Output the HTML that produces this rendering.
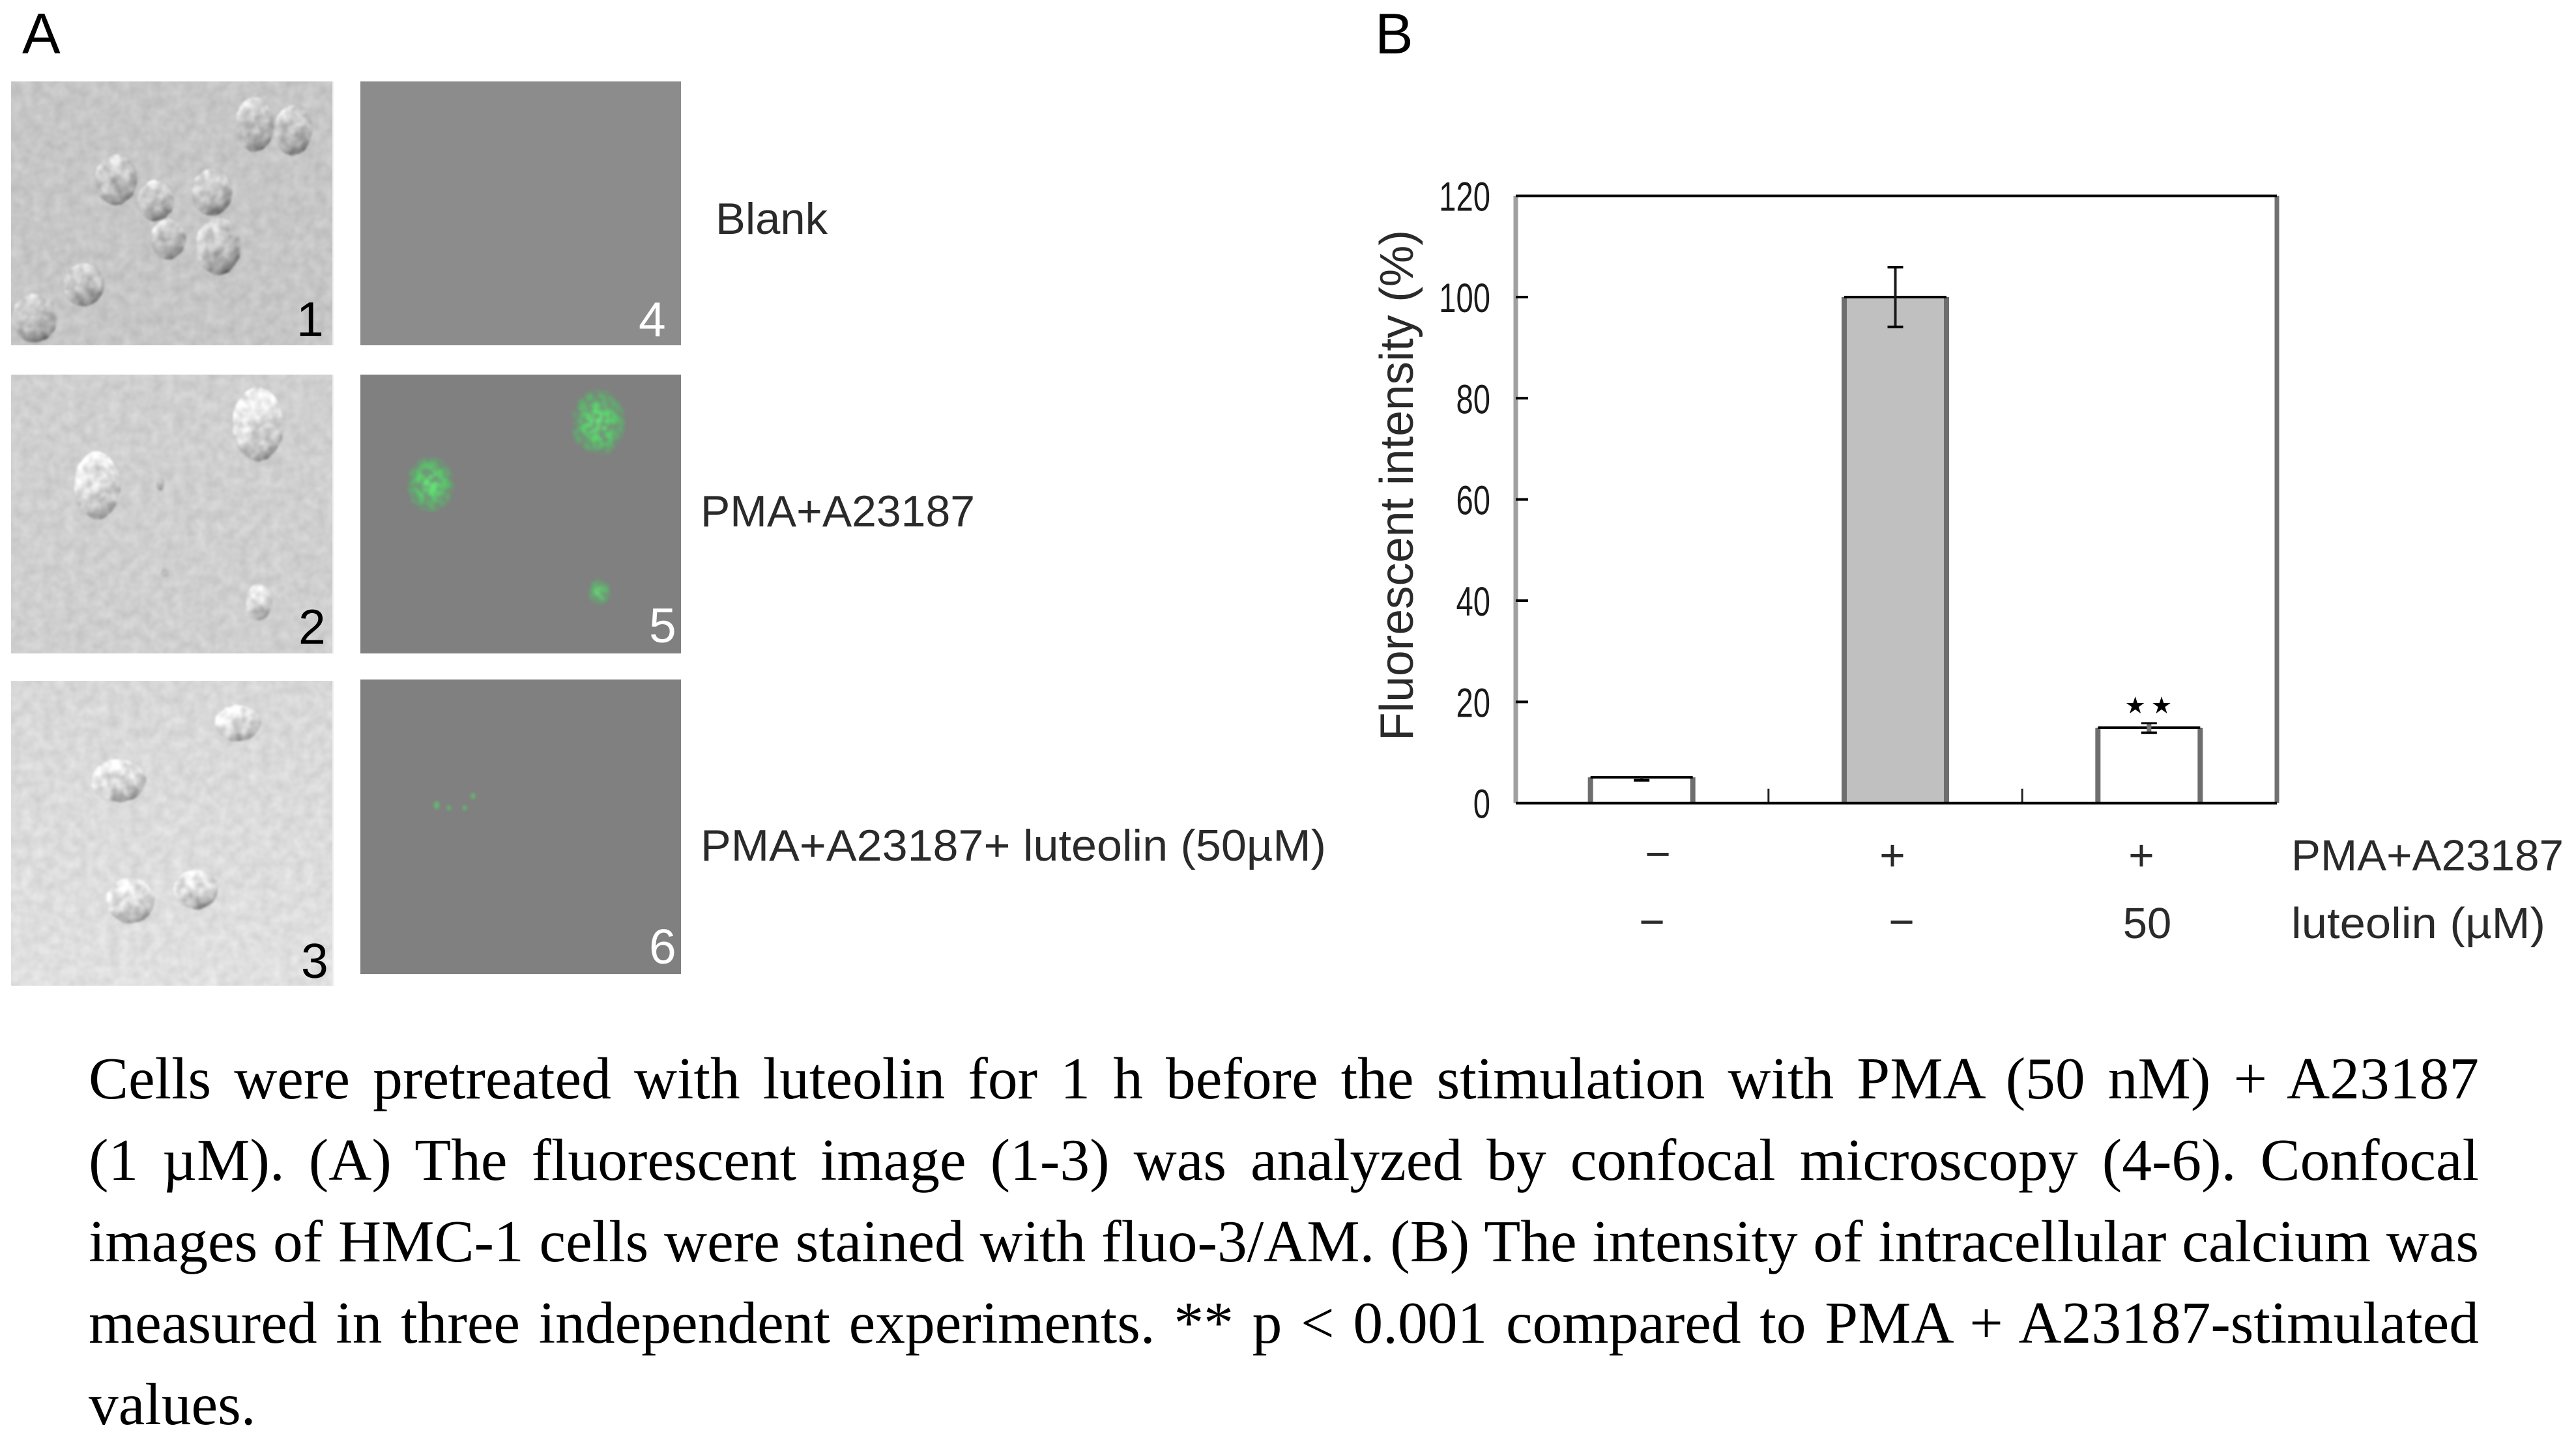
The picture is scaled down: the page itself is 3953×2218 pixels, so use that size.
<!DOCTYPE html>
<html lang="en">
<head>
<meta charset="utf-8">
<title>Luteolin calcium figure</title>
<style>
html,body{margin:0;padding:0;background:#fff;}
body{width:3953px;height:2200px;position:relative;overflow:hidden;}
svg{position:absolute;left:0;top:0;display:block;}
text{font-family:"Liberation Sans",sans-serif;}
.cap{position:absolute;left:136px;width:3668px;height:125px;line-height:125px;font-family:"Liberation Serif",serif;font-size:91.5px;color:#000;text-align:justify;text-align-last:justify;}
</style>
</head>
<body>
<svg width="3953" height="2200" viewBox="0 0 3953 2200" xmlns="http://www.w3.org/2000/svg">
<defs>
  <linearGradient id="cellA" x1="0.25" y1="0" x2="0.7" y2="1">
    <stop offset="0" stop-color="#e6e6e6"/><stop offset="0.5" stop-color="#c2c2c2"/><stop offset="0.8" stop-color="#a2a2a2"/><stop offset="1" stop-color="#5f5f5f"/>
  </linearGradient>
  <linearGradient id="cellB" x1="0.25" y1="0" x2="0.7" y2="1">
    <stop offset="0" stop-color="#fbfbfb"/><stop offset="0.5" stop-color="#e0e0e0"/><stop offset="0.82" stop-color="#b8b8b8"/><stop offset="1" stop-color="#808080"/>
  </linearGradient>
  <linearGradient id="panel3Bg" x1="0" y1="0" x2="0" y2="1">
    <stop offset="0" stop-color="#d7d7d7"/><stop offset="1" stop-color="#e0e0e0"/>
  </linearGradient>
  <radialGradient id="greenBlob">
    <stop offset="0" stop-color="#66ee7a"/><stop offset="0.6" stop-color="#58cc6a"/><stop offset="0.85" stop-color="#60ad6e"/><stop offset="1" stop-color="#6f9a76"/>
  </radialGradient>
  <radialGradient id="greenGlow">
    <stop offset="0" stop-color="#62b870" stop-opacity="0.6"/><stop offset="0.7" stop-color="#62a86f" stop-opacity="0.45"/><stop offset="1" stop-color="#62986f" stop-opacity="0"/>
  </radialGradient>
  <filter id="bgNoise" x="0" y="0" width="100%" height="100%" color-interpolation-filters="sRGB">
    <feTurbulence type="fractalNoise" baseFrequency="0.06" numOctaves="2" seed="4" result="n"/>
    <feColorMatrix in="n" type="matrix" values="1 0 0 0 0 1 0 0 0 0 1 0 0 0 0 0 0 0 0 1" result="g"/>
    <feComposite in="SourceGraphic" in2="g" operator="arithmetic" k1="0" k2="1" k3="0.12" k4="-0.06"/>
  </filter>
  <filter id="cellTex" x="-15%" y="-15%" width="130%" height="130%" color-interpolation-filters="sRGB">
    <feTurbulence type="fractalNoise" baseFrequency="0.07" numOctaves="2" seed="9" result="n"/>
    <feDisplacementMap in="SourceGraphic" in2="n" scale="4" xChannelSelector="R" yChannelSelector="G" result="d"/>
    <feColorMatrix in="n" type="matrix" values="1 0 0 0 0 1 0 0 0 0 1 0 0 0 0 0 0 0 0 1" result="g"/>
    <feComposite in="d" in2="g" operator="arithmetic" k1="0" k2="1" k3="0.42" k4="-0.21" result="t"/>
    <feComposite in="t" in2="d" operator="in" result="c"/>
    <feGaussianBlur in="c" stdDeviation="1.5"/>
  </filter>
  <filter id="speckle" x="-15%" y="-15%" width="130%" height="130%" color-interpolation-filters="sRGB">
    <feTurbulence type="fractalNoise" baseFrequency="0.1" numOctaves="2" seed="7" result="n"/>
    <feColorMatrix in="n" type="matrix" values="0 0 0 0 0 0 0 0 0 0 0 0 0 0 0 4 0 0 0 -1.5" result="a"/>
    <feDisplacementMap in="SourceGraphic" in2="n" scale="8" xChannelSelector="R" yChannelSelector="G" result="d"/>
    <feComposite in="d" in2="a" operator="in" result="c"/>
    <feGaussianBlur in="c" stdDeviation="2"/>
  </filter>
  <filter id="soft" x="-50%" y="-50%" width="200%" height="200%"><feGaussianBlur stdDeviation="2"/></filter>
  <clipPath id="clip1"><rect x="17" y="125" width="495" height="405"/></clipPath>
  <clipPath id="clip2"><rect x="17" y="575" width="495" height="428"/></clipPath>
  <clipPath id="clip3"><rect x="17" y="1045" width="495" height="468"/></clipPath>
</defs>

<!-- panel letters -->
<text x="34" y="82" font-size="88" fill="#000">A</text>
<text x="2110" y="82" font-size="88" fill="#000">B</text>

<!-- micrograph 1 -->
<g clip-path="url(#clip1)">
  <rect x="17" y="125" width="495" height="405" fill="#c6c6c6" filter="url(#bgNoise)"/>
  <g fill="url(#cellA)" filter="url(#cellTex)">
    <ellipse cx="391" cy="191" rx="29" ry="42"/>
    <ellipse cx="450" cy="200" rx="29" ry="38"/>
    <ellipse cx="178" cy="276" rx="32" ry="39"/>
    <ellipse cx="239" cy="308" rx="28" ry="31"/>
    <ellipse cx="325" cy="295" rx="31" ry="36"/>
    <ellipse cx="258" cy="367" rx="27" ry="31"/>
    <ellipse cx="335" cy="378" rx="34" ry="44"/>
    <ellipse cx="128" cy="437" rx="31" ry="33"/>
    <ellipse cx="53" cy="488" rx="34" ry="38"/>
  </g>
  <rect x="510" y="125" width="3" height="405" fill="#eeeeee"/>
</g>
<text x="455" y="516" font-size="75" fill="#000">1</text>

<!-- micrograph 2 -->
<g clip-path="url(#clip2)">
  <rect x="17" y="575" width="495" height="428" fill="#cfcfcf" filter="url(#bgNoise)"/>
  <g fill="url(#cellB)" filter="url(#cellTex)">
    <ellipse cx="396" cy="651" rx="39" ry="57"/>
    <ellipse cx="149" cy="745" rx="35" ry="52"/>
    <ellipse cx="397" cy="924" rx="20" ry="28"/>
    <ellipse cx="246" cy="742" rx="6" ry="11" opacity="0.6"/>
    <ellipse cx="253" cy="879" rx="6" ry="7" opacity="0.5"/>
  </g>
  <rect x="510" y="575" width="3" height="428" fill="#eeeeee"/>
</g>
<text x="458" y="988" font-size="75" fill="#000">2</text>

<!-- micrograph 3 -->
<g clip-path="url(#clip3)">
  <rect x="17" y="1045" width="495" height="468" fill="url(#panel3Bg)" filter="url(#bgNoise)"/>
  <g fill="url(#cellB)" filter="url(#cellTex)">
    <ellipse cx="365" cy="1110" rx="35" ry="28"/>
    <ellipse cx="182" cy="1198" rx="42" ry="33"/>
    <ellipse cx="300" cy="1365" rx="34" ry="30"/>
    <ellipse cx="200" cy="1382" rx="37" ry="35"/>
  </g>
  <rect x="510" y="1045" width="3" height="468" fill="#eeeeee"/>
</g>
<text x="462" y="1501" font-size="75" fill="#000">3</text>

<!-- confocal 4 -->
<rect x="553" y="125" width="492" height="405" fill="#8c8c8c"/>
<text x="980" y="516" font-size="75" fill="#fff">4</text>

<!-- confocal 5 -->
<g>
  <rect x="553" y="575" width="492" height="428" fill="#808080"/>
  <g fill="url(#greenGlow)">
    <ellipse cx="919" cy="648" rx="44" ry="54"/>
    <ellipse cx="661" cy="743" rx="40" ry="46"/>
    <ellipse cx="920" cy="909" rx="20" ry="23"/>
  </g>
  <g fill="url(#greenBlob)" filter="url(#speckle)">
    <ellipse cx="919" cy="648" rx="41" ry="51"/>
    <ellipse cx="661" cy="743" rx="36" ry="42"/>
    <ellipse cx="920" cy="909" rx="17" ry="20" opacity="0.7"/>
  </g>
</g>
<text x="996" y="986" font-size="75" fill="#fff">5</text>

<!-- confocal 6 -->
<g>
  <rect x="553" y="1043" width="492" height="452" fill="#808080"/>
  <g fill="#5cc86a" filter="url(#soft)" opacity="0.8">
    <ellipse cx="670" cy="1236" rx="4" ry="6"/>
    <ellipse cx="689" cy="1240" rx="3" ry="4"/>
    <ellipse cx="726" cy="1222" rx="3" ry="5"/>
    <ellipse cx="713" cy="1240" rx="3" ry="4"/>
  </g>
</g>
<text x="996" y="1479" font-size="75" fill="#fff">6</text>

<!-- condition labels -->
<text x="1098" y="359" font-size="68" fill="#2a2a2a" textLength="172" lengthAdjust="spacingAndGlyphs">Blank</text>
<text x="1075" y="808" font-size="68" fill="#2a2a2a" textLength="421" lengthAdjust="spacingAndGlyphs">PMA+A23187</text>
<text x="1075" y="1321" font-size="68" fill="#2a2a2a" textLength="960" lengthAdjust="spacingAndGlyphs">PMA+A23187+ luteolin (50µM)</text>

<!-- chart -->
<g id="chart"></g>

<text transform="translate(2168,1137) rotate(-90)" font-size="72" fill="#2a2a2a" textLength="784" lengthAdjust="spacingAndGlyphs">Fluorescent intensity (%)</text>

<!-- treatment rows -->
<text x="2544" y="1334" font-size="68" fill="#2a2a2a" text-anchor="middle">−</text>
<text x="2904" y="1336" font-size="68" fill="#2a2a2a" text-anchor="middle">+</text>
<text x="3286" y="1336" font-size="68" fill="#2a2a2a" text-anchor="middle">+</text>
<text x="3516" y="1336" font-size="67" fill="#2a2a2a" textLength="418" lengthAdjust="spacingAndGlyphs">PMA+A23187</text>
<text x="2535" y="1438" font-size="68" fill="#2a2a2a" text-anchor="middle">−</text>
<text x="2918" y="1438" font-size="68" fill="#2a2a2a" text-anchor="middle">−</text>
<text x="3295" y="1440" font-size="67" fill="#2a2a2a" text-anchor="middle">50</text>
<text x="3516" y="1440" font-size="67" fill="#2a2a2a" textLength="390" lengthAdjust="spacingAndGlyphs">luteolin (µM)</text>
</svg>

<div class="cap" style="top:1593px">Cells were pretreated with luteolin for 1 h before the stimulation with PMA (50 nM) + A23187</div>
<div class="cap" style="top:1718px">(1 µM). (A) The fluorescent image (1-3) was analyzed by confocal microscopy (4-6). Confocal</div>
<div class="cap" style="top:1843px;word-spacing:-10px">images of HMC-1 cells were stained with fluo-3/AM. (B) The intensity of intracellular calcium was</div>
<div class="cap" style="top:1968px">measured in three independent experiments. ** p &lt; 0.001 compared to PMA + A23187-stimulated</div>
<div class="cap" style="top:2093px;text-align-last:left">values.</div>

<script>
var categories = ['blank', 'pma-a23187', 'pma-a23187-luteolin'];
var values = [5.1, 100, 14.9];
var errorsUp = [0, 5.9, 0.9];
var errorsDown = [0.6, 5.9, 1];
var yTicks = [0, 20, 40, 60, 80, 100, 120];
var significance = ['', '', '★★'];

var NS = 'http://www.w3.org/2000/svg';
var chart = document.getElementById('chart');
var plotLeft = 2326, plotRight = 3494, plotTop = 300.6, plotBottom = 1232.7;
var yMax = 120;
var bandWidth = (plotRight - plotLeft) / categories.length;
var barWidth = 157;

function yScale(v) { return plotBottom - (v / yMax) * (plotBottom - plotTop); }
function xCenter(i) { return plotLeft - 1.5 + bandWidth * (i + 0.5); }

function addLine(x1, y1, x2, y2, color, width, name) {
  var el = document.createElementNS(NS, 'line');
  el.setAttribute('x1', x1);
  el.setAttribute('y1', y1);
  el.setAttribute('x2', x2);
  el.setAttribute('y2', y2);
  el.setAttribute('stroke', color);
  el.setAttribute('stroke-width', width);
  
  
  chart.appendChild(el);
  return el;
}

// frame
addLine(plotLeft, plotTop, plotLeft, plotBottom, '#a0a0a0', 7, 'y-axis-line');
addLine(plotRight, plotTop, plotRight, plotBottom, '#707070', 7, 'right-frame-line');

// y ticks and labels
yTicks.forEach(function (t) {
  var y = yScale(t);
  if (t !== 0 && t !== yMax) {
    addLine(plotLeft, y, plotLeft + 19, y, '#000', 4, 'y-tick-' + t);
  }
  var label = document.createElementNS(NS, 'text');
  label.setAttribute('transform', 'translate(2287,' + (y + 23) + ') scale(0.75,1)');
  label.setAttribute('text-anchor', 'end');
  label.setAttribute('font-size', '63');
  label.setAttribute('fill', '#1a1a1a');
  
  
  label.textContent = String(t);
  chart.appendChild(label);
});

// bars
categories.forEach(function (cat, i) {
  var cx = xCenter(i);
  var left = cx - barWidth / 2, right = cx + barWidth / 2;
  var top = yScale(values[i]);

  var rect = document.createElementNS(NS, 'rect');
  rect.setAttribute('x', left);
  rect.setAttribute('y', top);
  rect.setAttribute('width', barWidth);
  rect.setAttribute('height', plotBottom - top);
  rect.setAttribute('fill', i === 1 ? '#c0c0c0' : '#ffffff');
  
  
  chart.appendChild(rect);

  addLine(left, top, left, plotBottom, '#6e6e6e', 8, 'bar-left-edge-' + cat);
  addLine(right, top, right, plotBottom, '#6e6e6e', 8, 'bar-right-edge-' + cat);
  addLine(left, top, right, top, '#000', 4, 'bar-top-edge-' + cat);

  var hi = yScale(values[i] + errorsUp[i]), lo = yScale(values[i] - errorsDown[i]);
  addLine(cx, hi, cx, lo, i === 2 ? '#707070' : '#1a1a1a', i === 2 ? 7 : 4, 'error-stem-' + cat);
  if (errorsUp[i] > 0) {
    addLine(cx - 12, hi, cx + 12, hi, '#000', i === 2 ? 3 : 4, 'error-cap-top-' + cat);
  }
  addLine(cx - 12, lo, cx + 12, lo, '#000', 4, 'error-cap-bottom-' + cat);

  if (significance[i]) {
    var sig = document.createElementNS(NS, 'text');
    sig.setAttribute('x', cx + 3);
    sig.setAttribute('y', hi - 15);
    sig.setAttribute('text-anchor', 'middle');
    sig.setAttribute('font-size', '36');
    sig.setAttribute('letter-spacing', '8');
    sig.setAttribute('fill', '#000');
    sig.style.fontFamily = '"DejaVu Sans",sans-serif';
    
    
    sig.textContent = significance[i];
    chart.appendChild(sig);
  }
});

// category boundary ticks
for (var k = 1; k < categories.length; k++) {
  var bx = plotLeft - 1.5 + bandWidth * k;
  addLine(bx, plotBottom - 22, bx, plotBottom, '#222', 3, 'x-tick-' + k);
}

// top and bottom frame over the rest
addLine(plotLeft, plotTop, plotRight, plotTop, '#000', 4, 'top-frame-line');
addLine(plotLeft, plotBottom, plotRight, plotBottom, '#000', 4, 'x-axis-line');
</script>
</body>
</html>
